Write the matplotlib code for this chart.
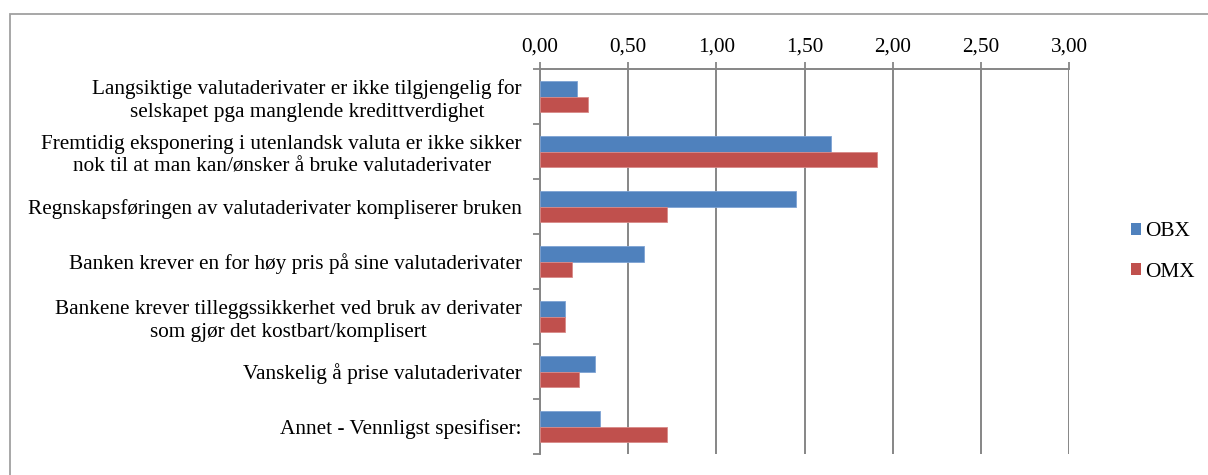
import numpy as np
import matplotlib
matplotlib.use("Agg")
import matplotlib.pyplot as plt
from matplotlib.patches import Rectangle, Patch

plt.rcParams['font.family'] = ['Liberation Serif', 'DejaVu Serif']

categories = [
    "Langsiktige valutaderivater er ikke tilgjengelig for\nselskapet pga manglende kredittverdighet",
    "Fremtidig eksponering i utenlandsk valuta er ikke sikker\nnok til at man kan/ønsker å bruke valutaderivater",
    "Regnskapsføringen av valutaderivater kompliserer bruken",
    "Banken krever en for høy pris på sine valutaderivater",
    "Bankene krever tilleggssikkerhet ved bruk av derivater\nsom gjør det kostbart/komplisert",
    "Vanskelig å prise valutaderivater",
    "Annet - Vennligst spesifiser:",
]
obx = [0.21, 1.65, 1.45, 0.59, 0.14, 0.31, 0.34]
omx = [0.27, 1.91, 0.72, 0.18, 0.14, 0.22, 0.72]
xticks = [0, 0.5, 1.0, 1.5, 2.0, 2.5, 3.0]

blue = '#4F81BD'
red = '#C0504D'
grey = '#868686'
fs = 15.3

W, H = 1208, 475
fig = plt.figure(figsize=(W / 100, H / 100), dpi=100)
ax = fig.add_axes([540 / W, 1 - 454 / H, (1069 - 540) / W, (454 - 69) / H])

y = np.arange(len(categories))
h = 0.28
ax.barh(y - h / 2, obx, height=h, color=blue, edgecolor='#7EA3D4', linewidth=0.6, zorder=3)
ax.barh(y + h / 2, omx, height=h, color=red, edgecolor='#D98A88', linewidth=0.6, zorder=3)

ax.set_xlim(0, 3.0)
ax.set_ylim(len(categories) - 0.5, -0.5)
ax.set_xticks(xticks)
ax.set_xticklabels([f"{v:.2f}".replace('.', ',') for v in xticks], fontsize=fs)
ax.xaxis.tick_top()
ax.tick_params(axis='x', length=5, width=1.3, color=grey, pad=4)
ax.grid(axis='x', color=grey, linewidth=1.4, zorder=0)

ax.set_yticks(np.arange(len(categories) + 1) - 0.5, minor=False)
ax.set_yticklabels([])
ax.set_yticks(y, minor=True)
ax.set_yticklabels(categories, minor=True, fontsize=fs, ha='right')
for lab in ax.get_yticklabels(minor=True):
    lab.set_multialignment('center')
    lab.set_linespacing(1.25)
ax.tick_params(axis='y', which='major', length=5, width=1.3, color=grey, direction='out')
ax.tick_params(axis='y', which='minor', length=0, pad=13)

for s in ['right', 'bottom']:
    ax.spines[s].set_visible(False)
for s in ['top', 'left']:
    ax.spines[s].set_color(grey)
    ax.spines[s].set_linewidth(1.4)

handles = [Patch(facecolor=blue, label='OBX'), Patch(facecolor=red, label='OMX')]
fig.legend(handles=handles, loc='center left', bbox_to_anchor=(1112 / W, 1 - 252 / H),
           frameon=False, fontsize=fs, handlelength=0.45, handleheight=0.45,
           handletextpad=0.2, labelspacing=1.0)

fig.patches.append(Rectangle((10 / W, -0.1), 1.2, 1 - 14 / H + 0.1, transform=fig.transFigure,
                             fill=False, edgecolor='#A0A0A0', linewidth=1.3))

fig.savefig('out.png', dpi=100)
